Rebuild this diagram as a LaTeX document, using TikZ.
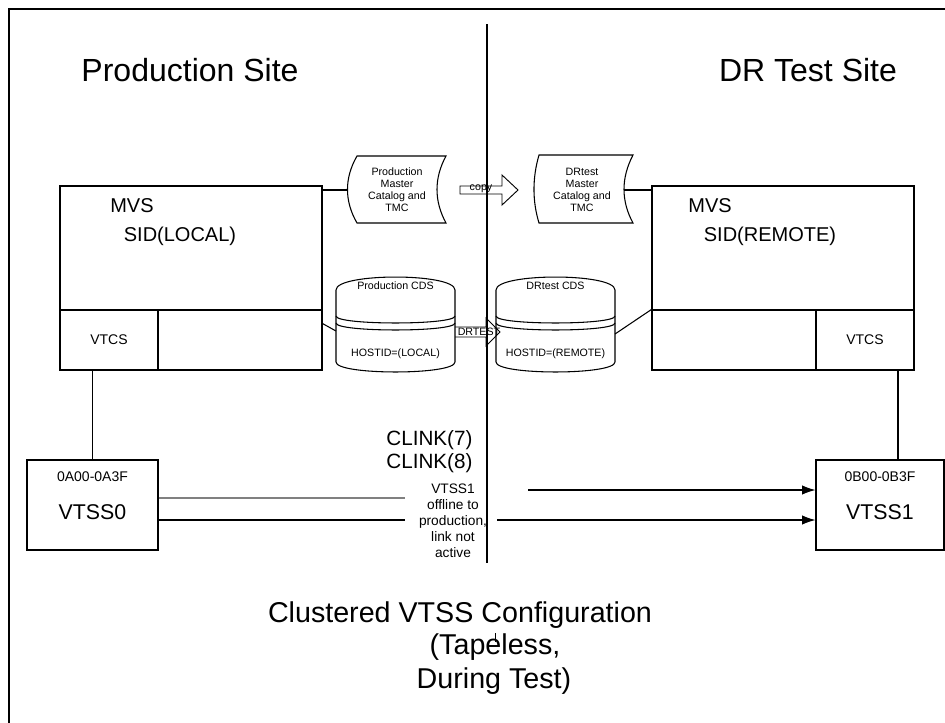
\documentclass[tikz,border=0pt]{standalone}
\usepackage{fontspec}
\setmainfont{Liberation Sans}
\usetikzlibrary{calc,arrows.meta}
\begin{document}
\begin{tikzpicture}[x=0.75pt,y=-0.75pt,line width=0.8pt,
  box/.style={draw,rectangle,inner sep=0pt},
  lbl/.style={inner sep=0pt,align=center},
  head/.style={lbl,font=\fontsize{24}{28}\selectfont},
  big/.style={lbl,font=\fontsize{15}{18}\selectfont},
  tiny/.style={lbl,font=\fontsize{8}{9}\selectfont},
  small/.style={lbl,font=\fontsize{10.5}{12}\selectfont},
  arr/.style={-{Latex[length=10pt,width=7pt]}}]
\useasboundingbox (0,0) rectangle (945,722);
% frame and divider
\draw[line width=2.2pt] (9,740) -- (9,9) -- (960,9);
\coordinate (divtop) at (487,24);
\coordinate (divbot) at (487,563);
\draw[line width=1.2pt] (divtop) -- (divbot);
% headings
\node[head] (hL) at (190,70) {Production Site};
\node[head] (hR) at (808,70) {DR Test Site};
% MVS boxes
\node[box,minimum width=196.5pt,minimum height=138pt] (mvsL) at (191,278) {};
\node[box,minimum width=73.5pt,minimum height=45pt,font=\fontsize{10.5}{12}\selectfont] (vtcsL) at (109,340) {VTCS};
\node[box,minimum width=123pt,minimum height=45pt] (slotL) at (240,340) {};
\node[big] (mvsLt) at (132,206) {MVS};
\node[big] (sidL) at (180,236) {SID(LOCAL)};
\node[box,minimum width=196.5pt,minimum height=138pt] (mvsR) at (783,278) {};
\node[box,minimum width=123pt,minimum height=45pt] (slotR) at (734,340) {};
\node[box,minimum width=73.5pt,minimum height=45pt,font=\fontsize{10.5}{12}\selectfont] (vtcsR) at (865,340) {VTCS};
\node[big] (mvsRt) at (710,206) {MVS};
\node[big] (sidR) at (770,236) {SID(REMOTE)};
% catalogs
\draw (357,156) -- (446,156) .. controls (434,178) and (434,201) .. (446,223)
  -- (357,223) .. controls (344.3,201) and (344.3,178) .. cycle;
\node[tiny] (catL) at (397,190) {Production\\Master\\Catalog and\\TMC};
\coordinate (catLw) at (347,190);
\draw (mvsL.east |- catLw) -- (catLw);
\draw (539,155) -- (633,155) .. controls (621,178) and (621,201) .. (633,223)
  -- (539,223) .. controls (532.3,201) and (532.3,178) .. cycle;
\node[tiny] (catR) at (582,190) {DRtest\\Master\\Catalog and\\TMC};
\coordinate (catRe) at (624,190);
\draw (catRe) -- (mvsR.west |- catRe);
% copy arrow
\draw[line width=0.7pt] (460,186) -- (502,186) -- (502,175) -- (518,190) -- (502,205) -- (502,194) -- (460,194) -- cycle;
\node[tiny] (copy) at (481,189) {copy};
% CDS cylinders
\draw (336,290) -- (336,362) .. controls (336,375.3) and (455,375.3) .. (455,362)
  -- (455,290) .. controls (455,272.7) and (336,272.7) .. cycle;
\draw (336,316) .. controls (336,325.3) and (455,325.3) .. (455,316);
\draw (336,323) .. controls (336,332.3) and (455,332.3) .. (455,323);
\node[tiny] (cdsL) at (395.5,286) {Production CDS};
\node[tiny] (hostL) at (395.5,354) {HOSTID=(LOCAL)};
\draw (496,290) -- (496,362) .. controls (496,375.3) and (615,375.3) .. (615,362)
  -- (615,290) .. controls (615,272.7) and (496,272.7) .. cycle;
\draw (496,316) .. controls (496,325.3) and (615,325.3) .. (615,316);
\draw (496,323) .. controls (496,332.3) and (615,332.3) .. (615,323);
\node[tiny] (cdsR) at (555.5,286) {DRtest CDS};
\node[tiny] (hostR) at (555.5,354) {HOSTID=(REMOTE)};
\coordinate (cdsLw) at (336,331);
\draw ($(mvsL.south east)+(0,-47)$) -- (cdsLw);
\coordinate (cdsRe) at (615,334);
\draw (cdsRe) -- (slotR.north west);
% DRTEST arrow
\draw[line width=0.7pt] (455,327) -- (486,327) -- (486,318) -- (500,332) -- (486,346) -- (486,337) -- (455,337);
\node[tiny] (drtest) at (479,332) {DRTEST};
% VTSS boxes
\node[box,minimum width=98.25pt,minimum height=67.5pt] (vtss0) at (92.5,505) {};
\node[small] (addr0) at (92.5,477) {0A00-0A3F};
\node[lbl,font=\fontsize{16}{19}\selectfont] (name0) at (92.5,512) {VTSS0};
\node[box,minimum width=96pt,minimum height=67.5pt] (vtss1) at (880,505) {};
\node[small] (addr1) at (880,477) {0B00-0B3F};
\node[lbl,font=\fontsize{16}{19}\selectfont] (name1) at (880,512) {VTSS1};
\draw (vtss0.north) -- (vtss0.north |- vtcsL.south);
\coordinate (r1) at (898,460);
\draw (r1) -- (r1 |- vtcsR.south);
% links
\node[lbl,anchor=east,font=\fontsize{15.5}{18}\selectfont] (cl7) at (473,440) {CLINK(7)};
\node[lbl,anchor=east,font=\fontsize{15.5}{18}\selectfont] (cl8) at (473,463) {CLINK(8)};
\node[lbl,font=\fontsize{10.3}{12}\selectfont] (offl) at (453,520.5) {VTSS1\\offline to\\production,\\link not\\active};
\coordinate (a1) at (405,498);
\coordinate (a2) at (528,490);
\coordinate (b1) at (405,520);
\coordinate (b2) at (497,520);
\draw[gray] (vtss0.east |- a1) -- (a1);
\draw[arr] (a2) -- (vtss1.west |- a2);
\draw (vtss0.east |- b1) -- (b1);
\draw[arr] (b2) -- (vtss1.west |- b2);
% title
\node[lbl,font=\fontsize{21.5}{25}\selectfont] (t1) at (460,615) {Clustered VTSS Configuration};
\node[lbl,font=\fontsize{21.5}{25}\selectfont] (t2) at (495,647) {(Tapeless,};
\node[lbl,font=\fontsize{21.5}{25}\selectfont] (t3) at (494,681) {During Test)};
\coordinate (tk1) at (495,633);
\coordinate (tk2) at (495,642);
\draw[line width=0.6pt] (tk1) -- (tk2);
\end{tikzpicture}
\end{document}
